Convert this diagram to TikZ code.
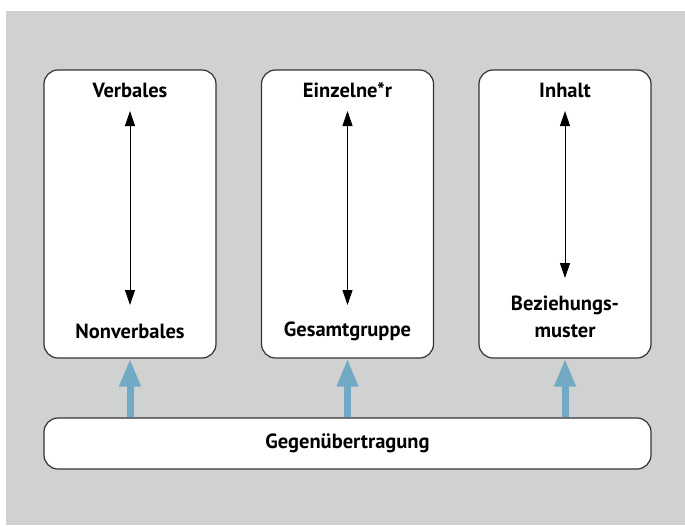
\documentclass[tikz,border=0pt]{standalone}
\usepackage{fontspec}
\setmainfont{PT Sans}
\usetikzlibrary{arrows.meta}
\definecolor{bggray}{HTML}{D0D2D1}
\definecolor{edgegray}{HTML}{333333}
\definecolor{flowblue}{HTML}{72A9C4}
\begin{document}
\begin{tikzpicture}[x=1pt,y=-1pt,
box/.style={draw=edgegray,line width=1.2pt,fill=white,rounded corners=14pt,inner sep=0pt},
lbl/.style={font=\bfseries\fontsize{20.5}{27}\selectfont,align=center},
dbl/.style={{Triangle[width=10pt,length=15pt]}-{Triangle[width=10pt,length=15pt]},line width=1pt},
feed/.style={-{Triangle[width=20pt,length=28pt]},flowblue,line width=7pt}]
\useasboundingbox (0,0) rectangle (685,525);
\fill[bggray] (6,11) rectangle (685,525);
% three columns
\node[box,minimum width=172pt,minimum height=288pt] (B1) at (130,214) {};
\node[box,minimum width=172pt,minimum height=288pt] (B2) at (347.5,214) {};
\node[box,minimum width=172pt,minimum height=288pt] (B3) at (565,214) {};
\node[box,minimum width=607pt,minimum height=51pt] (G) at (347.5,443.5) {};
\node[lbl] (B1t) at (130,90) {Verbales};
\node[lbl] (B1b) at (130,331) {Nonverbales};
\node[lbl] (B2t) at (347.5,90) {Einzelne*r};
\node[lbl] (B2b) at (347.5,331) {Gesamtgruppe};
\node[lbl] (B3t) at (565,90) {Inhalt};
\node[lbl] (B3b) at (565,317) {Beziehungs-\\muster};
\node[lbl] at (G) {Gegenübertragung};
\coordinate (a1) at (130,111); \coordinate (b1) at (130,305);
\coordinate (a2) at (347.5,111); \coordinate (b2) at (347.5,305);
\coordinate (a3) at (565,111); \coordinate (b3) at (565,278);
\draw[dbl] (a1) -- (b1);
\draw[dbl] (a2) -- (b2);
\draw[dbl] (a3) -- (b3);
% feedback arrows
\draw[feed] (G.north -| B1) -- (B1.south);
\draw[feed] (G.north) -- (B2.south);
\draw[feed] (G.north -| B3) -- (B3.south);
\end{tikzpicture}
\end{document}
